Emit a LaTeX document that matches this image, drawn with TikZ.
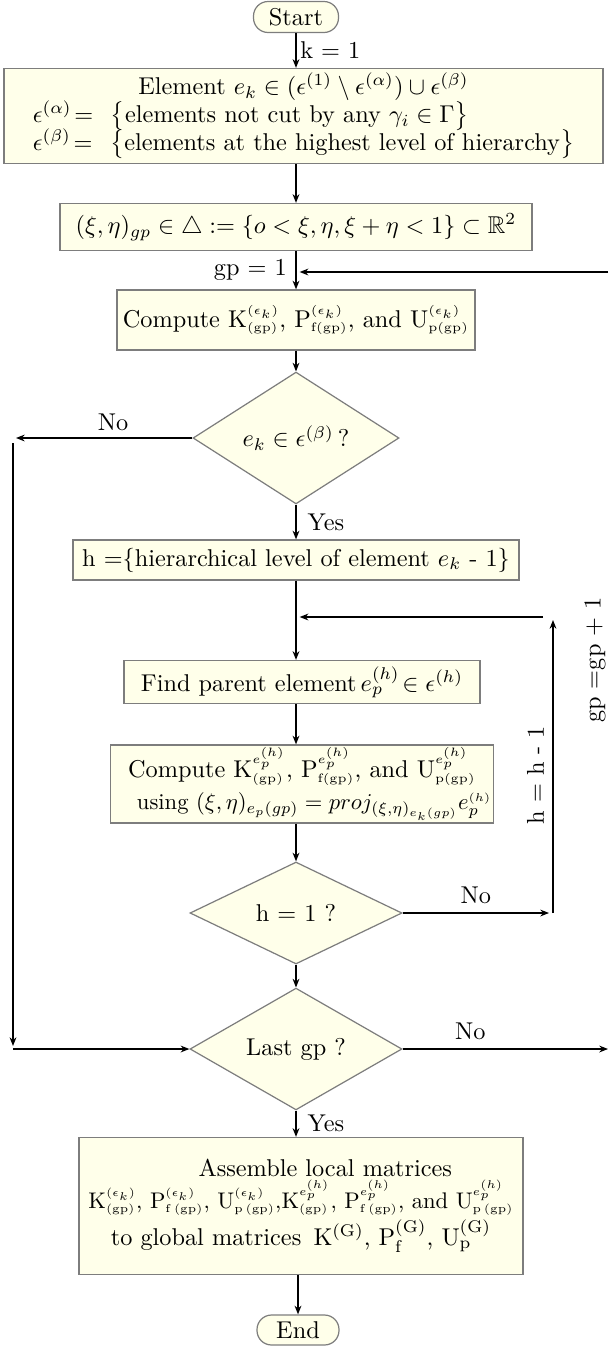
\documentclass[tikz,border=0pt]{standalone}
\usepackage{amsmath,amssymb}
\usetikzlibrary{shapes.geometric,arrows.meta,calc}
\definecolor{boxfill}{RGB}{255,255,234}
\definecolor{boxline}{RGB}{125,125,125}
\newcommand\pxu{0.4115pt}
\newcommand\tsup[1]{{\scriptscriptstyle #1}}
\newcommand\mat[3]{\mathrm{#1}^{\tsup{#2}}_{\tsup{\mathrm{#3}}}}
\begin{document}
\begin{tikzpicture}[x=0.4115pt,y=-0.4115pt,
  box/.style={draw=boxline, fill=boxfill, line width=0.5pt, inner sep=1pt, align=center},
  term/.style={box, rounded corners=6pt},
  dec/.style={draw=boxline, fill=boxfill, line width=0.5pt, diamond, inner sep=0pt},
  arr/.style={-{Stealth[length=3.6pt,width=2.8pt]}, line width=0.55pt},
  lab/.style={inner sep=1.5pt}]
\useasboundingbox (0,0) rectangle (608,1346);

\node[term, minimum width=85*\pxu, minimum height=31*\pxu] (start) at (296,17) {Start};
\node[box, minimum width=599*\pxu, minimum height=95*\pxu] (b1) at (303.5,116)
 {\begin{tabular}{@{}l@{}}
  \multicolumn{1}{@{}c@{}}{Element $e_k \in (\epsilon^{(1)} \setminus \epsilon^{(\alpha)}) \cup \epsilon^{(\beta)}$\hspace{10pt}}\\[-1pt]
  $\epsilon^{(\alpha)}\!=\;\,\bigl\{$elements not cut by any $\gamma_i \in \Gamma\bigr\}$\\[-1pt]
  $\epsilon^{(\beta)}\!=\;\,\bigl\{$elements at the highest level of hierarchy$\bigr\}$
  \end{tabular}};
\node[box, minimum width=472*\pxu, minimum height=47*\pxu] (b2) at (296,227)
 {$(\xi,\eta)_{gp}\in\triangle:=\{o<\xi,\eta,\xi+\eta<1\}\subset\mathbb{R}^2$};
\node[box, minimum width=358*\pxu, minimum height=60*\pxu] (b3) at (296,320)
 {Compute $\mat{K}{(\epsilon_k)}{(gp)}$, $\mat{P}{(\epsilon_k)}{f(gp)}$, and $\mat{U}{(\epsilon_k)}{p(gp)}$};
\node[dec, minimum width=206*\pxu, minimum height=96*\pxu] (d1) at (296,438) {$e_k\in\epsilon^{(\beta)}\,$?};
\node[box, minimum width=446*\pxu, minimum height=40*\pxu] (b4) at (296,560)
 {h =\{hierarchical level of element $e_k$ - 1\}};
\node[box, minimum width=356*\pxu, minimum height=43*\pxu] (b5) at (302,682)
 {Find parent element\,$e_p^{(h)}\!\in\epsilon^{(h)}$};
\node[box, minimum width=356*\pxu, minimum height=77*\pxu] (b6) at (302,784)
 {Compute $\mat{K}{e_p^{(h)}}{(gp)}$, $\mat{P}{e_p^{(h)}}{f(gp)}$, and $\mat{U}{e_p^{(h)}}{p(gp)}$\\[1pt]
  \quad\scalebox{0.93}{using $(\xi,\eta)_{e_p(gp)} = proj_{(\xi,\eta)_{e_k(gp)}} e_p^{\tsup{(h)}}$}};
\node[dec, minimum width=212*\pxu, minimum height=102*\pxu] (d2) at (296,913) {h = 1 ?};
\node[dec, minimum width=212*\pxu, minimum height=102*\pxu] (d3) at (296,1049) {Last gp ?};
\node[box, minimum width=444*\pxu, minimum height=137*\pxu] (b7) at (301,1206)
 {\hspace{20pt}Assemble local matrices\\[1pt]
  \scalebox{0.93}{$\mat{K}{(\epsilon_k)}{(gp)}$, $\mat{P}{(\epsilon_k)}{f\,(gp)}$, $\mat{U}{(\epsilon_k)}{p\,(gp)}$,$\mat{K}{e_p^{(h)}}{(gp)}$, $\mat{P}{e_p^{(h)}}{f\,(gp)}$, and $\mat{U}{e_p^{(h)}}{p\,(gp)}$}\\[1pt]
  to global matrices\, $\mathrm{K}^{(\mathrm{G})}$, $\mathrm{P}_{\mathrm{f}}^{(\mathrm{G})}$, $\mathrm{U}_{\mathrm{p}}^{(\mathrm{G})}$};
\node[term, minimum width=82*\pxu, minimum height=30*\pxu] (end) at (298,1330) {End};

% free ends
\coordinate (gpR) at (608,272);
\coordinate (L1) at (16,438);
\coordinate (L2) at (13,443);
\coordinate (L3) at (13,1046);
\coordinate (L4) at (13,1049);
\coordinate (R1) at (549,913);
\coordinate (R2) at (553,913);
\coordinate (R3) at (553,620);
\coordinate (R4) at (543,617);
\coordinate (E1) at (608,1049);

% main flow
\draw[arr] (start.south) -- (start.south |- b1.north) node[midway, right, lab] {k = 1};
\draw[arr] (start.south |- b1.south) -- (b2.north);
\draw[arr] (b2.south) -- (b3.north) node[midway, left, lab, xshift=-2pt] {gp = 1};
\draw[arr, shorten >=1.5pt] (gpR) -- (gpR -| b2.south);
\draw[arr] (b3.south) -- (d1.north);
\draw[arr] (d1.south) -- (b4.north) node[midway, right, lab, xshift=3pt] {Yes};
\draw[arr] (d1.west) -- (L1) node[pos=0.45, above, lab, yshift=1pt] {No};
\draw[arr] (L2) -- (L3);
\draw[arr] (L4) -- (d3.west);
\draw[arr] (b4.south) -- (b4.south |- b5.north);
\draw[arr, shorten >=1.5pt] (R4) -- (R4 -| b4.south);
\draw[arr] (b4.south |- b5.south) -- (b4.south |- b6.north);
\draw[arr] (b4.south |- b6.south) -- (d2.north);
\draw[arr] (d2.east) -- (R1) node[midway, above, lab, yshift=2pt] {No};
\draw[arr] (R2) -- (R3) node[pos=0.47, above, sloped, lab, yshift=2pt] {h = h - 1};
\node[rotate=90] (gplab) at (595,660) {gp =gp + 1};
\draw[arr] (d2.south) -- (d3.north);
\draw[arr] (d3.east) -- (E1) node[pos=0.33, above, lab, yshift=2pt] {No};
\draw[arr] (d3.south) -- (d3.south |- b7.north) node[midway, right, lab, xshift=3pt] {Yes};
\draw[arr] (end.north |- b7.south) -- (end.north);
\end{tikzpicture}
\end{document}
